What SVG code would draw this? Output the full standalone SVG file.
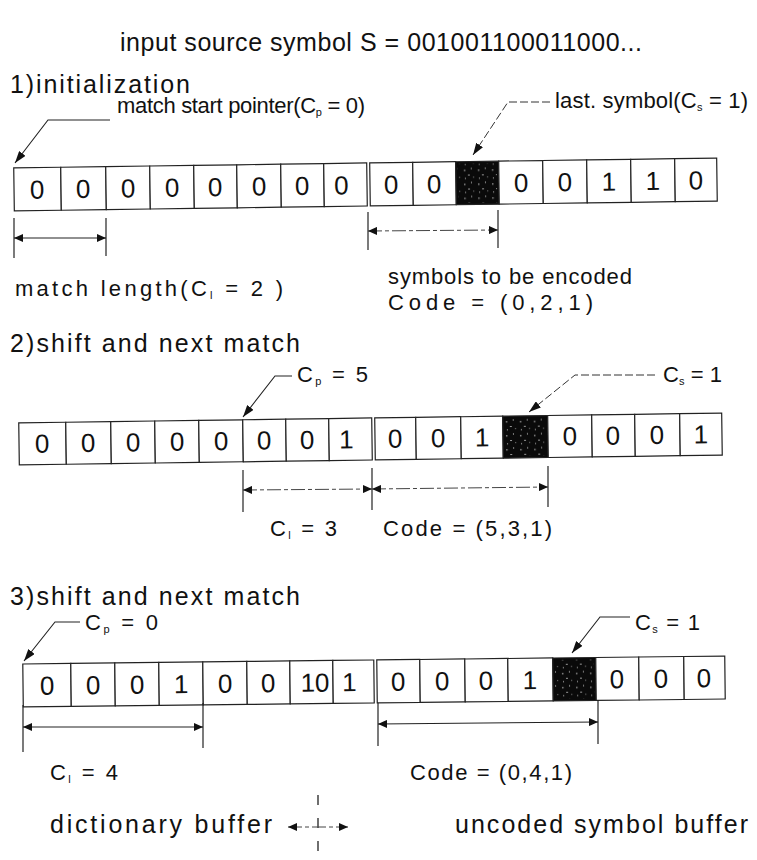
<svg xmlns="http://www.w3.org/2000/svg" width="757" height="860" viewBox="0 0 757 860">
  <defs>
    <style>
      .cell { fill: #fff; stroke: #222; stroke-width: 1.2; }
      .dark { fill: #0a0a0a; stroke: #222; stroke-width: 1.2; }
      .dig { font-family: "Liberation Sans", Arial, sans-serif; font-size: 26px; text-anchor: middle; fill: #111; }
      .lbl { font-family: "Liberation Sans", Arial, sans-serif; font-size: 22px; fill: #111; }
      .head { font-family: "Liberation Sans", Arial, sans-serif; font-size: 25px; fill: #111; }
      .sub { font-size: 11px; }
      .tick { stroke: #222; stroke-width: 1.2; fill: none; }
      .dim { stroke: #222; stroke-width: 1.1; fill: none; marker-start: url(#ah); marker-end: url(#ah); }
      .dimd { stroke: #444; stroke-width: 1; fill: none; stroke-dasharray: 14 3 4 3; marker-start: url(#ah); marker-end: url(#ah); }
      .lead { stroke: #222; stroke-width: 1.1; fill: none; marker-end: url(#lh); }
      .leadd { stroke: #333; stroke-width: 1; fill: none; stroke-dasharray: 8 3; marker-end: url(#lh); }
    </style>
    <marker id="ah" viewBox="0 0 9 8" refX="9" refY="4" markerWidth="9" markerHeight="8" markerUnits="userSpaceOnUse" orient="auto-start-reverse">
      <path d="M0,0 L9,4 L0,8 z" fill="#111"/>
    </marker>
    <marker id="lh" viewBox="0 0 12 8" refX="12" refY="4" markerWidth="12" markerHeight="8" markerUnits="userSpaceOnUse" orient="auto">
      <path d="M0,0 L12,4 L0,8 z" fill="#111"/>
    </marker>
    <pattern id="grain" width="14" height="14" patternUnits="userSpaceOnUse">
      <rect x="2" y="3" width="1.5" height="1.5" fill="#888"/>
      <rect x="9" y="1" width="1" height="2" fill="#777"/>
      <rect x="6" y="8" width="2" height="1" fill="#999"/>
      <rect x="11" y="10" width="1.2" height="1.2" fill="#666"/>
      <rect x="3" y="11" width="1" height="1.5" fill="#888"/>
    </pattern>
  </defs>

  <!-- heading -->
  <text class="head" x="120" y="51" textLength="522" lengthAdjust="spacing">input source symbol S = 001001100011000...</text>

  <!-- step 1 -->
  <text class="head" x="10" y="93" textLength="180" lengthAdjust="spacing">1)initialization</text>
  <text class="lbl" x="117" y="113" textLength="248" lengthAdjust="spacing">match start pointer(C<tspan class="sub" dy="3">p</tspan><tspan dy="-3"> =  0)</tspan></text>
  <text class="lbl" x="555" y="108" textLength="193" lengthAdjust="spacing">last. symbol(C<tspan class="sub" dy="3">s</tspan><tspan dy="-3"> =  1)</tspan></text>

  <g id="row1" transform="rotate(-0.8 365 185)">
    <rect class="cell" x="14" y="163" width="47" height="43"/>
    <rect class="cell" x="61" y="163" width="45" height="43"/>
    <rect class="cell" x="106" y="163" width="44" height="43"/>
    <rect class="cell" x="150" y="163" width="44" height="43"/>
    <rect class="cell" x="194" y="163" width="43" height="43"/>
    <rect class="cell" x="237" y="163" width="44" height="43"/>
    <rect class="cell" x="281" y="163" width="43" height="43"/>
    <rect class="cell" x="324" y="163" width="43" height="43"/>
    <rect class="cell" x="370" y="163" width="43" height="43"/>
    <rect class="cell" x="413" y="163" width="43" height="43"/>
    <rect class="dark" x="456" y="163" width="43" height="43"/>
    <rect x="458" y="165" width="39" height="39" fill="url(#grain)"/>
    <rect class="cell" x="499" y="163" width="44" height="43"/>
    <rect class="cell" x="543" y="163" width="44" height="43"/>
    <rect class="cell" x="587" y="163" width="44" height="43"/>
    <rect class="cell" x="631" y="163" width="44" height="43"/>
    <rect class="cell" x="675" y="163" width="42" height="43"/>
    <text class="dig" y="194">
      <tspan x="37">0</tspan><tspan x="83">0</tspan><tspan x="128">0</tspan><tspan x="172">0</tspan><tspan x="215">0</tspan><tspan x="259">0</tspan><tspan x="302">0</tspan><tspan x="345">0</tspan>
      <tspan x="391">0</tspan><tspan x="434">0</tspan><tspan x="521">0</tspan><tspan x="565">0</tspan><tspan x="609">1</tspan><tspan x="653">1</tspan><tspan x="696">0</tspan>
    </text>
  </g>

  <text class="lbl" x="15" y="296" textLength="268" lengthAdjust="spacing">match length(C<tspan class="sub" dy="3">l</tspan><tspan dy="-3"> =  2 )</tspan></text>
  <text class="lbl" x="388" y="284" textLength="244" lengthAdjust="spacing">symbols to be encoded</text>
  <text class="lbl" x="388" y="310" textLength="205" lengthAdjust="spacing">Code = (0,2,1)</text>

  <!-- step 2 -->
  <text class="head" x="10" y="352" textLength="290" lengthAdjust="spacing">2)shift and next match</text>
  <text class="lbl" x="297" y="382" textLength="71" lengthAdjust="spacing">C<tspan class="sub" dy="3">p</tspan><tspan dy="-3"> =  5</tspan></text>
  <text class="lbl" x="663" y="382" textLength="59" lengthAdjust="spacing">C<tspan class="sub" dy="3">s</tspan><tspan dy="-3"> =  1</tspan></text>

  <g id="row2" transform="rotate(-0.8 370 439)">
    <rect class="cell" x="19" y="418" width="47" height="42"/>
    <rect class="cell" x="66" y="418" width="45" height="42"/>
    <rect class="cell" x="111" y="418" width="44" height="42"/>
    <rect class="cell" x="155" y="418" width="44" height="42"/>
    <rect class="cell" x="199" y="418" width="44" height="42"/>
    <rect class="cell" x="243" y="418" width="43" height="42"/>
    <rect class="cell" x="286" y="418" width="43" height="42"/>
    <rect class="cell" x="329" y="418" width="43" height="42"/>
    <rect class="cell" x="375" y="418" width="41" height="42"/>
    <rect class="cell" x="416" y="418" width="45" height="42"/>
    <rect class="cell" x="461" y="418" width="42" height="42"/>
    <rect class="dark" x="503" y="418" width="45" height="42"/>
    <rect x="505" y="420" width="41" height="38" fill="url(#grain)"/>
    <rect class="cell" x="548" y="418" width="44" height="42"/>
    <rect class="cell" x="592" y="418" width="43" height="42"/>
    <rect class="cell" x="635" y="418" width="45" height="42"/>
    <rect class="cell" x="680" y="418" width="42" height="42"/>
    <text class="dig" y="448">
      <tspan x="42">0</tspan><tspan x="88">0</tspan><tspan x="133">0</tspan><tspan x="177">0</tspan><tspan x="221">0</tspan><tspan x="264">0</tspan><tspan x="307">0</tspan><tspan x="350">1</tspan>
      <tspan x="395">0</tspan><tspan x="438">0</tspan><tspan x="482">1</tspan><tspan x="570">0</tspan><tspan x="613">0</tspan><tspan x="657">0</tspan><tspan x="701">1</tspan>
    </text>
  </g>

  <text class="lbl" x="270" y="536" textLength="67" lengthAdjust="spacing">C<tspan class="sub" dy="3">l</tspan><tspan dy="-3"> =  3</tspan></text>
  <text class="lbl" x="383" y="536" textLength="169" lengthAdjust="spacing">Code = (5,3,1)</text>

  <!-- step 3 -->
  <text class="head" x="10" y="605" textLength="290" lengthAdjust="spacing">3)shift and next match</text>
  <text class="lbl" x="85" y="630" textLength="73" lengthAdjust="spacing">C<tspan class="sub" dy="3">p</tspan><tspan dy="-3"> =  0</tspan></text>
  <text class="lbl" x="635" y="630" textLength="65" lengthAdjust="spacing">C<tspan class="sub" dy="3">s</tspan><tspan dy="-3"> =  1</tspan></text>

  <g id="row3" transform="rotate(-0.65 374 681)">
    <rect class="cell" x="23" y="660" width="48" height="43"/>
    <rect class="cell" x="71" y="660" width="44" height="43"/>
    <rect class="cell" x="115" y="660" width="44" height="43"/>
    <rect class="cell" x="159" y="660" width="44" height="43"/>
    <rect class="cell" x="203" y="660" width="44" height="43"/>
    <rect class="cell" x="247" y="660" width="43" height="43"/>
    <rect class="cell" x="290" y="660" width="43" height="43"/>
    <rect class="cell" x="333" y="660" width="41" height="43"/>
    <rect class="cell" x="377" y="660" width="43" height="43"/>
    <rect class="cell" x="420" y="660" width="45" height="43"/>
    <rect class="cell" x="465" y="660" width="43" height="43"/>
    <rect class="cell" x="508" y="660" width="45" height="43"/>
    <rect class="dark" x="553" y="660" width="43" height="43"/>
    <rect x="555" y="662" width="39" height="39" fill="url(#grain)"/>
    <rect class="cell" x="596" y="660" width="43" height="43"/>
    <rect class="cell" x="639" y="660" width="45" height="43"/>
    <rect class="cell" x="684" y="660" width="41" height="43"/>
    <text class="dig" y="691">
      <tspan x="47">0</tspan><tspan x="93">0</tspan><tspan x="137">0</tspan><tspan x="181">1</tspan><tspan x="225">0</tspan><tspan x="268">0</tspan><tspan x="315">10</tspan><tspan x="353">1</tspan>
      <tspan x="398">0</tspan><tspan x="442">0</tspan><tspan x="486">0</tspan><tspan x="530">1</tspan><tspan x="617">0</tspan><tspan x="661">0</tspan><tspan x="704">0</tspan>
    </text>
  </g>

  <text class="lbl" x="50" y="780" textLength="68" lengthAdjust="spacing">C<tspan class="sub" dy="3">l</tspan><tspan dy="-3"> =  4</tspan></text>
  <text class="lbl" x="410" y="780" textLength="162" lengthAdjust="spacing">Code = (0,4,1)</text>

  <!-- buffer legend -->
  <text class="head" x="50" y="833" textLength="222" lengthAdjust="spacing">dictionary buffer</text>
  <text class="head" x="455" y="833" textLength="293" lengthAdjust="spacing">uncoded symbol buffer</text>

  <g id="connectors">
    <!-- step 1 pointers -->
    <polyline class="lead" points="110,120 48,120 15,163"/>
    <polyline class="leadd" points="550,102 508,102 473,155"/>
    <!-- step 1 spans -->
    <line class="tick" x1="14" y1="218" x2="14" y2="258"/>
    <line class="tick" x1="106" y1="218" x2="106" y2="256"/>
    <line class="dim" x1="14" y1="238" x2="106" y2="238"/>
    <line class="tick" x1="368" y1="212" x2="368" y2="250"/>
    <line class="tick" x1="498" y1="210" x2="498" y2="248"/>
    <line class="dimd" x1="368" y1="231" x2="498" y2="230"/>

    <!-- step 2 pointers -->
    <polyline class="lead" points="292,376 275,376 243,417"/>
    <polyline class="leadd" points="655,375 575,375 529,412"/>
    <!-- step 2 spans -->
    <line class="tick" x1="243" y1="470" x2="243" y2="512"/>
    <line class="tick" x1="372" y1="468" x2="372" y2="510"/>
    <line class="tick" x1="548" y1="466" x2="548" y2="507"/>
    <line class="dimd" x1="243" y1="490" x2="372" y2="489"/>
    <line class="dimd" x1="372" y1="489" x2="548" y2="487"/>

    <!-- step 3 pointers -->
    <polyline class="lead" points="80,622 55,622 24,661"/>
    <polyline class="lead" points="630,617 600,617 572,653"/>
    <!-- step 3 spans -->
    <line class="tick" x1="23" y1="705" x2="23" y2="752"/>
    <line class="tick" x1="203" y1="703" x2="203" y2="748"/>
    <line class="dim" x1="23" y1="727" x2="203" y2="727"/>
    <line class="tick" x1="378" y1="703" x2="378" y2="746"/>
    <line class="tick" x1="598" y1="700" x2="598" y2="744"/>
    <line class="dim" x1="378" y1="724" x2="598" y2="722"/>

    <!-- buffer boundary -->
    <line x1="318" y1="795" x2="318" y2="858" stroke="#222" stroke-width="1.3" stroke-dasharray="10 13"/>
    <line class="dimd" x1="288" y1="827" x2="348" y2="827"/>
  </g>
</svg>
